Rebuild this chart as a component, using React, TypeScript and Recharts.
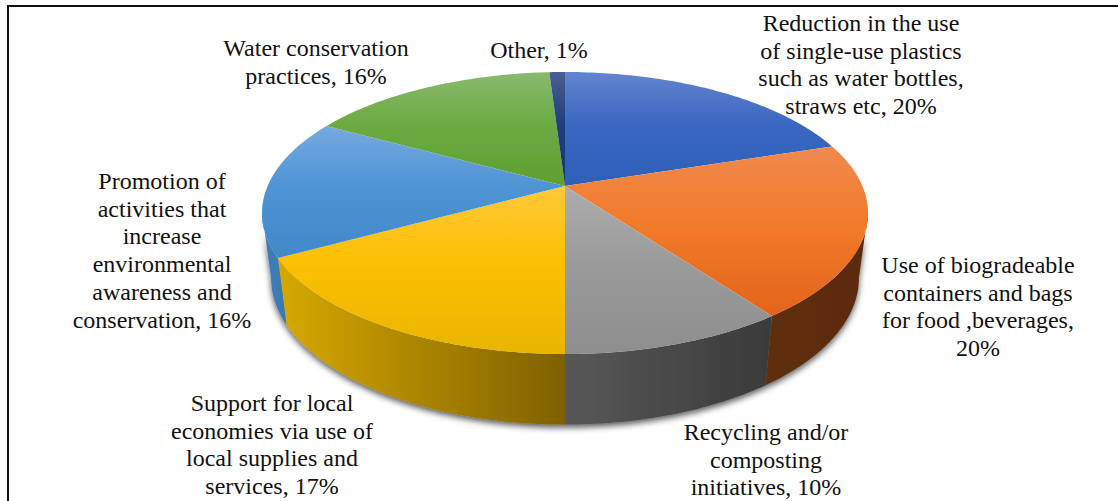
import React from 'react';
import { PieChart, Pie } from 'recharts';

const SHARES = [20, 20, 10, 17, 16, 16, 1];

const LABEL_LINES = [
  ['Reduction in the use', 'of single-use plastics', 'such as water bottles,', 'straws etc,'],
  ['Use of biogradeable', 'containers and bags', 'for food ,beverages,', ''],
  ['Recycling and/or', 'composting', 'initiatives,'],
  ['Support for local', 'economies via use of', 'local supplies and', 'services,'],
  ['Promotion of', 'activities that', 'increase', 'environmental', 'awareness and', 'conservation,'],
  ['Water conservation', 'practices,'],
  ['Other,'],
];

// centre x and first baseline of each label block
const LABEL_ANCHORS = [
  [861, 31], [978, 273], [766, 440], [272, 411], [162, 189], [316, 56], [539, 58],
];

const TOP_STOPS = [
  ['#6484cf', '#3a68c1', '#2e5fb6'],
  ['#ee8a4f', '#f27b2a', '#e2641a'],
  ['#adadad', '#9b9b9b', '#8e8e8e'],
  ['#ffc93a', '#fdc002', '#e9b500'],
  ['#77a9de', '#4f95d6', '#4188c8'],
  ['#8ab96f', '#6cab43', '#5fa030'],
  ['#4a5f92', '#203f80', '#1a366c'],
];

const WALL_STOPS = [
  ['#2a4f96', '#2a4f96'],
  ['#5f2e0c', '#5c2b0a'],
  ['#585858', '#3a3a3a'],
  ['#d6a900', '#7f6000'],
  ['#3f80ba', '#3a78b0'],
  ['#4f8a2c', '#4f8a2c'],
  ['#1a2f5c', '#1a2f5c'],
];

const CX = 565;
const CY = 186;
const RADIUS = 297.4;
const RIM_RY = 141;
const APEX_OFFSET = 27;
const TILT = -0.1915;

// perspective projection of a point on the unit circle, relative to the apex
const rim = (clock: number) => {
  const t = (clock * Math.PI) / 180;
  const x = Math.sin(t);
  const y = -Math.cos(t);
  const w = 1 + TILT * y;
  return { x: (RADIUS * x) / w, y: (RIM_RY * y - APEX_OFFSET) / w + APEX_OFFSET };
};

// lower edge of the side wall, same rim pushed down and slightly narrowed
const floor = (clock: number) => {
  const p = rim(clock);
  const fromCentre = p.y - APEX_OFFSET;
  return { x: p.x * 0.97, y: fromCentre * 1.04 + 65 + APEX_OFFSET };
};

const arcPoints = (from: number, to: number, fn: (c: number) => { x: number; y: number }, cx: number, cy: number) => {
  const n = Math.max(2, Math.ceil(Math.abs(to - from)));
  const pts: string[] = [];
  for (let i = 0; i <= n; i++) {
    const p = fn(from + ((to - from) * i) / n);
    pts.push(`${(cx + p.x).toFixed(1)} ${(cy + p.y).toFixed(1)}`);
  }
  return pts;
};

const TopSlice = (props: any) => {
  const { cx, cy, startAngle, endAngle, index } = props;
  const pts = arcPoints(90 - startAngle, 90 - endAngle, rim, cx, cy);
  return <path d={`M${cx} ${cy}L${pts.join('L')}Z`} fill={`url(#top${index})`} stroke="none" />;
};

const WallSlice = (props: any) => {
  const { cx, cy, startAngle, endAngle, index } = props;
  const from = Math.max(90 - startAngle, 101);
  const to = Math.min(90 - endAngle, 259);
  if (to <= from) return <g />;
  const upper = arcPoints(from, to, rim, cx, cy);
  const lower = arcPoints(to, from, floor, cx, cy);
  return <path d={`M${upper.join('L')}L${lower.join('L')}Z`} fill={`url(#wall${index})`} stroke="none" />;
};

const SliceLabel = (props: any) => {
  const { index, value } = props;
  const [x, y] = LABEL_ANCHORS[index];
  const lines = LABEL_LINES[index];
  return (
    <text x={x} y={y} textAnchor="middle" fill="#111" fontFamily="'Liberation Serif', serif" fontSize={24}>
      {lines.map((line, i) => {
        const last = i === lines.length - 1;
        const str = last ? `${line}${line ? ' ' : ''}${value}%` : line;
        return (
          <tspan key={i} x={x} dy={i === 0 ? 0 : 27.7}>
            {str}
          </tspan>
        );
      })}
    </text>
  );
};

const tableData = SHARES.map((value, i) => ({ name: LABEL_LINES[i].join(' '), value }));

export default function App() {
  return (
    <div style={{ position: 'absolute', left: 0, top: 0, width: 1118, height: 501, background: '#fff', overflow: 'hidden' }}>
      <style>{`.pie-walls { filter: url(#pieShadow); }`}</style>
      <div style={{ position: 'absolute', left: 7, top: 5, width: 1130, height: 520, border: '2px solid #111' }} />
      <div style={{ position: 'absolute', left: 0, top: 0 }}>
        <PieChart width={1118} height={501} margin={{ top: 0, right: 0, bottom: 0, left: 0 }}>
          <defs>
            <filter id="pieShadow" x="-5%" y="-5%" width="110%" height="115%">
              <feDropShadow dx="0" dy="3" stdDeviation="3" floodColor="#000" floodOpacity="0.65" />
            </filter>
            {TOP_STOPS.map((stops, i) => (
              <linearGradient key={i} id={`top${i}`} x1="0" y1="0" x2="0" y2="1">
                <stop offset="0" stopColor={stops[0]} />
                <stop offset="0.45" stopColor={stops[1]} />
                <stop offset="1" stopColor={stops[2]} />
              </linearGradient>
            ))}
            {WALL_STOPS.map((stops, i) => (
              <linearGradient key={i} id={`wall${i}`} x1="0" y1="0" x2="1" y2="0">
                <stop offset="0" stopColor={stops[0]} />
                <stop offset="1" stopColor={stops[1]} />
              </linearGradient>
            ))}
          </defs>
          <Pie
            className="pie-walls"
            data={tableData}
            dataKey="value"
            cx={CX}
            cy={CY}
            outerRadius={RADIUS}
            startAngle={90}
            endAngle={-270}
            paddingAngle={0}
            stroke="none"
            shape={WallSlice}
            isAnimationActive={false}
          />
          <Pie
            data={tableData}
            dataKey="value"
            cx={CX}
            cy={CY}
            outerRadius={RADIUS}
            startAngle={90}
            endAngle={-270}
            paddingAngle={0}
            stroke="none"
            shape={TopSlice}
            label={SliceLabel}
            labelLine={false}
            isAnimationActive={false}
          />
        </PieChart>
      </div>
    </div>
  );
}
